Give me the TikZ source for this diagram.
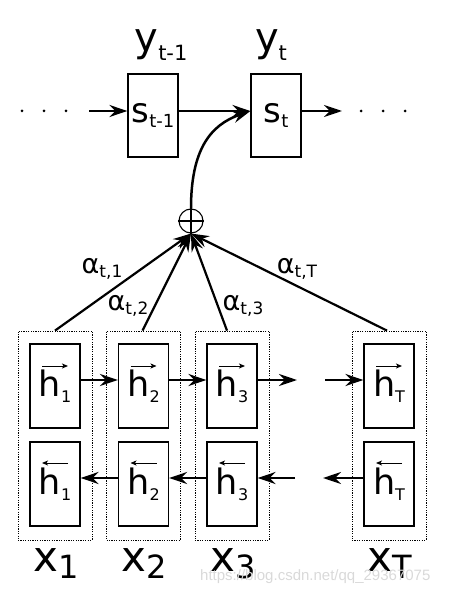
\documentclass[tikz,border=0pt]{standalone}
\usepackage{fontspec}
\setmainfont{DejaVu Sans}
\newfontfamily\wmfont{Liberation Sans}
\usetikzlibrary{arrows.meta}
\newcommand{\mylab}[5]{{\fontsize{#3}{#3}\selectfont #1}\raisebox{-#5pt}{\fontsize{#4}{#4}\selectfont #2}}
\tikzset{
 cell/.style={draw, line width=1.2pt, minimum width=50pt, minimum height=84pt, inner sep=0pt},
 dotbox/.style={draw, line width=0.8pt, dash pattern=on 1.2pt off 1.2pt, minimum width=74pt, minimum height=209pt, inner sep=0pt},
 arr/.style={line width=2.5pt, -{Stealth[length=18pt,width=12pt,inset=6pt]}},
 vec/.style={line width=0.9pt, -{Stealth[length=6pt,width=5pt,inset=1.5pt]}},
 lab/.style={inner sep=0pt},
 dotn/.style={circle, fill, inner sep=0pt, minimum size=3pt},
}
\begin{document}
\begin{tikzpicture}[x=1pt,y=-1pt]
\useasboundingbox (0,0) rectangle (453,593);
% top row
\node[cell,minimum height=83pt] (st1) at (153,115.5) {\mylab{s}{t-1}{34}{18}{5}};
\node[cell,minimum height=83pt] (st) at (276,115.5) {\mylab{s}{t}{34}{18}{5}};
\node[lab] (yt1) at (161,45) {\mylab{y}{t-1}{40}{21}{9}};
\node[lab] (yt) at (271,45) {\mylab{y}{t}{40}{21}{9}};
\node[dotn] (l1) at (22,111) {};
\node[dotn] (l2) at (44,111) {};
\node[dotn] (l3) at (66,111) {};
\node[dotn] (r1) at (361,111) {};
\node[dotn] (r2) at (383,111) {};
\node[dotn] (r3) at (405,111) {};
\coordinate (lin) at (89,111);
\coordinate (rout) at (342,111);
\draw[arr] (lin) -- ([yshift=4.5pt]st1.west);
\draw[arr] ([yshift=4.5pt]st1.east) -- ([yshift=4.5pt]st.west);
\draw[arr] ([yshift=4.5pt]st.east) -- (rout);
% oplus
\node[circle, draw, line width=1.1pt, minimum size=24pt, inner sep=0pt] (plus) at (191,221) {};
\draw[line width=2.2pt] (plus.north) -- (plus.south);
\draw[line width=2.2pt] (plus.west) -- (plus.east);
\draw[arr] (plus.north) .. controls (191,150) and (210,125) .. ([yshift=4.5pt]st.west);
% columns
\foreach \n/\cx/\s in {1/55/1, 2/143.5/2, 3/232/3, T/389/T}{
  \node[dotbox] (d\n) at (\cx,435.5) {};
  \node[cell] (hf\n) at (\cx,386) {\mylab{h}{\s}{35}{16}{6}};
  \node[cell] (hb\n) at (\cx,484) {\mylab{h}{\s}{35}{16}{6}};
  \draw[vec] ([shift={(-13,-20)}]hf\n.center) -- ([shift={(13,-20)}]hf\n.center);
  \draw[vec] ([shift={(13,-21)}]hb\n.center) -- ([shift={(-13,-21)}]hb\n.center);
}
\node[lab] (x1) at (56,564) {\mylab{x}{1}{42}{32}{7}};
\node[lab] (x2) at (144,564) {\mylab{x}{2}{42}{32}{7}};
\node[lab] (x3) at (233,564) {\mylab{x}{3}{42}{32}{7}};
\node[lab] (xT) at (390,564) {\mylab{x}{T}{42}{32}{7}};
% forward
\coordinate (f3out) at (297,380);
\coordinate (fTin) at (325,380);
\draw[arr] ([yshift=6pt]hf1.east) -- ([yshift=6pt]hf2.west);
\draw[arr] ([yshift=6pt]hf2.east) -- ([yshift=6pt]hf3.west);
\draw[arr] ([yshift=6pt]hf3.east) -- (f3out);
\draw[arr] (fTin) -- ([yshift=6pt]hfT.west);
% backward
\coordinate (b3in) at (295,478);
\coordinate (bTout) at (323,478);
\draw[arr] ([yshift=6pt]hb2.west) -- ([yshift=6pt]hb1.east);
\draw[arr] ([yshift=6pt]hb3.west) -- ([yshift=6pt]hb2.east);
\draw[arr] (b3in) -- ([yshift=6pt]hb3.east);
\draw[arr] ([yshift=6pt]hbT.west) -- (bTout);
% attention
\draw[arr,line width=2.2pt] (d1.north) -- (plus.south);
\draw[arr,line width=2.2pt] ([xshift=-1pt]d2.north) -- (plus.south);
\draw[arr,line width=2.2pt] ([xshift=-5pt]d3.north) -- (plus.south);
\draw[arr,line width=2.2pt] ([xshift=-2pt]dT.north) -- (plus.south);
\node[lab] (a1) at (102,268.5) {\mylab{α}{t,1}{27}{17}{4}};
\node[lab] (a2) at (128,305.5) {\mylab{α}{t,2}{27}{17}{4}};
\node[lab] (a3) at (243,305.5) {\mylab{α}{t,3}{27}{17}{4}};
\node[lab] (aT) at (297,268.5) {\mylab{α}{t,T}{27}{17}{4}};
% watermark
\node[lab, anchor=base west, text=gray!30] (wm) at (200,580) {\wmfont\fontsize{15}{15}\selectfont https://blog.csdn.net/qq\_29367075};
\end{tikzpicture}
\end{document}
